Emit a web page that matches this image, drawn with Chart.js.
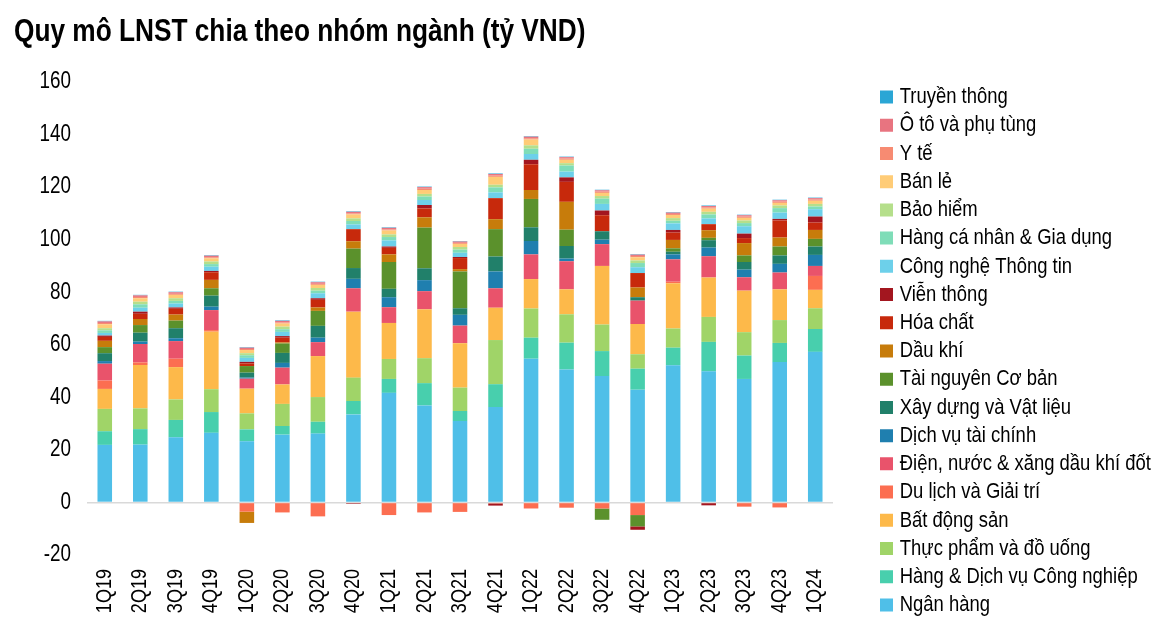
<!DOCTYPE html>
<html>
<head>
<meta charset="utf-8">
<script src="https://cdn.jsdelivr.net/npm/chart.js@4.4.1/dist/chart.umd.min.js"></script>
<style>
  html, body { margin: 0; padding: 0; background: #ffffff; }
  #wrap { width: 1176px; height: 638px; position: relative; }
</style>
</head>
<body>
<div id="wrap"><canvas id="c"></canvas></div>
<script>
// ---- Data (tỷ VND) ----
const categories = ['1Q19','2Q19','3Q19','4Q19','1Q20','2Q20','3Q20','4Q20','1Q21','2Q21','3Q21','4Q21','1Q22','2Q22','3Q22','4Q22','1Q23','2Q23','3Q23','4Q23','1Q24'];
const yTicks = [-20, 0, 20, 40, 60, 80, 100, 120, 140, 160];

const nganHang     = [21.9, 22.0, 24.8, 26.5, 23.3, 25.8, 26.2, 33.5, 41.7, 36.9, 31.0, 36.3, 54.7, 50.6, 48.1, 42.9, 52.2, 49.9, 47.0, 53.4, 57.3];
const hangDvCN     = [5.2, 5.9, 6.6, 7.9, 4.5, 3.3, 4.5, 5.1, 5.3, 8.5, 3.8, 8.7, 8.0, 10.2, 9.5, 8.0, 6.7, 11.2, 8.9, 7.3, 8.7];
const thucPham     = [8.5, 7.9, 7.8, 8.7, 6.1, 8.4, 9.4, 8.9, 7.6, 9.5, 8.9, 16.8, 11.1, 10.8, 10.1, 5.5, 7.3, 9.5, 8.9, 8.7, 7.9];
const batDongSan   = [7.6, 16.5, 12.3, 21.9, 9.4, 7.4, 15.6, 25.1, 13.7, 18.6, 16.9, 12.3, 11.2, 9.5, 22.3, 11.5, 17.2, 15.0, 15.8, 11.7, 7.0];
const duLich       = [3.2, 1.0, 3.2, 0.6, -3.5, -3.8, -5.3, 0, -4.8, -3.8, -3.6, -0.4, -2.3, -2.0, -2.3, -4.8, 0.6, -0.3, -1.6, -1.9, 5.3];
const dienNuoc     = [6.4, 7.0, 6.7, 7.6, 3.8, 6.4, 5.3, 8.9, 6.0, 6.9, 6.7, 7.4, 9.4, 10.7, 8.3, 8.9, 8.5, 8.1, 5.1, 6.4, 3.8];
const dvTaiChinh   = [1.0, 0.9, 1.1, 1.3, 0.4, 1.8, 1.7, 3.6, 3.8, 4.2, 4.1, 6.4, 5.1, 1.0, 1.7, 0, 1.9, 3.3, 2.9, 3.3, 4.2];
const xayDung      = [3.0, 3.4, 3.8, 4.2, 1.9, 3.8, 4.5, 4.1, 3.2, 4.5, 2.5, 5.7, 5.2, 4.8, 3.2, 1.3, 1.0, 2.8, 2.9, 3.2, 3.2];
const taiNguyen    = [2.3, 2.9, 2.9, 2.8, 2.5, 3.6, 5.7, 7.4, 10.2, 15.5, 14.0, 10.4, 10.8, 6.2, -4.3, -4.3, 1.3, 0.9, 2.5, 3.4, 2.9];
const dauKhi       = [2.4, 2.3, 2.3, 3.2, -4.3, 0.4, 1.3, 2.8, 2.9, 3.9, 0.9, 3.8, 3.4, 10.6, 0, 3.7, 3.2, 2.9, 4.7, 3.4, 3.4];
const hoaChat      = [1.5, 2.0, 2.2, 2.9, 1.0, 1.8, 2.9, 4.6, 2.5, 3.4, 4.2, 8.0, 9.8, 7.6, 6.1, 5.5, 2.8, 2.3, 1.9, 6.5, 2.8];
const vienThong    = [0.5, 0.8, 0.5, 0.5, 0.6, 0.6, 0.6, -0.5, 0.5, 1.3, 0.4, -0.8, 1.7, 1.7, 1.8, -1.3, 1.0, -0.8, 1.7, 0.6, 2.3];
const congNgheTT   = [1.0, 1.5, 1.5, 1.6, 1.5, 1.6, 1.9, 1.8, 2.3, 1.9, 1.6, 2.2, 2.2, 2.2, 2.5, 2.2, 2.5, 2.2, 2.8, 2.4, 2.8];
const hangCaNhan   = [1.0, 1.3, 1.0, 1.0, 1.0, 1.0, 1.0, 1.3, 1.3, 1.3, 1.2, 1.9, 2.0, 2.3, 2.0, 1.6, 1.0, 1.5, 1.2, 1.7, 1.0];
const baoHiem      = [0.8, 1.0, 1.0, 1.0, 0.8, 1.0, 1.0, 1.0, 1.0, 1.0, 1.0, 1.0, 1.3, 0.9, 1.0, 1.0, 1.0, 1.0, 1.0, 1.0, 1.0];
const banLe        = [1.5, 1.3, 1.3, 1.2, 1.2, 1.2, 1.2, 1.5, 1.5, 1.5, 1.2, 3.0, 2.2, 1.3, 1.2, 1.2, 1.2, 1.2, 1.0, 1.0, 1.2];
const yTe          = [0.5, 0.5, 0.4, 0.4, 0.4, 0.4, 0.4, 0.4, 0.4, 0.5, 0.4, 0.5, 0.5, 0.5, 0.5, 0.5, 0.4, 0.5, 0.5, 0.5, 0.5];
const otoPhuTung   = [0.6, 0.6, 0.6, 0.6, 0.5, 0.6, 0.6, 0.6, 0.6, 0.6, 0.5, 0.6, 0.6, 0.5, 0.5, 0.5, 0.5, 0.5, 0.5, 0.5, 0.5];
const truyenThong  = [0.2, 0.2, 0.2, 0.2, 0.2, 0.2, 0.2, 0.2, 0.2, 0.2, 0.2, 0.2, 0.2, 0.2, 0.2, 0.2, 0.2, 0.2, 0.2, 0.2, 0.2];

// bottom-to-top stacking order
const seriesNames = ['Ngân hàng','Hàng & Dịch vụ Công nghiệp','Thực phẩm và đồ uống','Bất động sản','Du lịch và Giải trí','Điện, nước & xăng dầu khí đốt','Dịch vụ tài chính','Xây dựng và Vật liệu','Tài nguyên Cơ bản','Dầu khí','Hóa chất','Viễn thông','Công nghệ Thông tin','Hàng cá nhân & Gia dụng','Bảo hiểm','Bán lẻ','Y tế','Ô tô và phụ tùng','Truyền thông'];
const seriesData = [nganHang, hangDvCN, thucPham, batDongSan, duLich, dienNuoc, dvTaiChinh, xayDung, taiNguyen, dauKhi, hoaChat, vienThong, congNgheTT, hangCaNhan, baoHiem, banLe, yTe, otoPhuTung, truyenThong];
const seriesColors = ['#4FBFE8','#48CFAD','#A0D468','#FDB94A','#FC6E51','#E9536B','#1F7FAF','#21806A','#5B912C','#C77C0B','#C7290C','#A3161F','#6DD0EA','#7FDDB8','#B5DF8B','#FFCC77','#F78B72','#E87480','#2AA6D5'];

// Narrow-font emulation: horizontally condense text whose font list starts with a marker family
const NARROW = 0.82;
const FONT = "NarrowMark, 'Liberation Sans', Arial, sans-serif";
const FONT_LEG = "NarrowMarkLeg, 'Liberation Sans', Arial, sans-serif";
const LEG_TEXT_SHIFT = -4.5;
(function () {
  const P = CanvasRenderingContext2D.prototype;
  const origFill = P.fillText, origMeasure = P.measureText;
  P.fillText = function (text, x, y, maxWidth) {
    const f = this.font;
    if (f.indexOf('NarrowMark') < 0) {
      return maxWidth === undefined ? origFill.call(this, text, x, y) : origFill.call(this, text, x, y, maxWidth);
    }
    const dx = f.indexOf('NarrowMarkLeg') >= 0 ? LEG_TEXT_SHIFT : 0;
    this.save();
    this.translate(x + dx, y);
    this.scale(NARROW, 1);
    origFill.call(this, text, 0, 0);
    this.restore();
  };
  P.measureText = function (text) {
    const m = origMeasure.call(this, text);
    if (this.font.indexOf('NarrowMark') < 0) return m;
    return {
      width: m.width * NARROW,
      actualBoundingBoxLeft: m.actualBoundingBoxLeft * NARROW,
      actualBoundingBoxRight: m.actualBoundingBoxRight * NARROW,
      actualBoundingBoxAscent: m.actualBoundingBoxAscent,
      actualBoundingBoxDescent: m.actualBoundingBoxDescent,
      fontBoundingBoxAscent: m.fontBoundingBoxAscent,
      fontBoundingBoxDescent: m.fontBoundingBoxDescent
    };
  };
})();

const LEGEND_W = 343;
const LEG_FONT = 22.5;
const LEG_PAD = 5.72;

const layoutPlugin = {
  id: 'layoutFix',
  afterInit(chart) {
    const lg = chart.legend;
    const origFit = lg.fit;
    lg.fit = function () { origFit.call(this); this.width = LEGEND_W; };
  },
  afterLayout(chart) {
    const lg = chart.legend;
    const w = lg.width;
    lg.left = 880 - LEG_PAD; lg.right = lg.left + w;
    lg.top = 97 - LEG_PAD - LEG_FONT / 2; lg.bottom = 638; lg.height = lg.bottom - lg.top;
  }
};

new Chart(document.getElementById('c'), {
  type: 'bar',
  data: {
    labels: categories,
    datasets: seriesNames.map((n, i) => ({
      label: n,
      data: seriesData[i],
      backgroundColor: seriesColors[i],
      borderWidth: 0,
      barPercentage: 0.41,
      categoryPercentage: 1.0
    }))
  },
  options: {
    responsive: true,
    maintainAspectRatio: false,
    animation: false,
    layout: { padding: { left: 14, right: 0, top: 0, bottom: 0 } },
    plugins: {
      title: {
        display: true,
        text: 'Quy mô LNST chia theo nhóm ngành (tỷ VND)',
        align: 'start',
        color: '#000000',
        font: { family: FONT, size: 32, weight: 'bold' },
        padding: { top: 12.5, bottom: 31.1 }
      },
      legend: {
        position: 'right',
        align: 'start',
        reverse: true,
        labels: {
          boxWidth: 13, boxHeight: 13,
          padding: LEG_PAD,
          color: '#000000',
          font: { family: FONT_LEG, size: LEG_FONT }
        }
      },
      tooltip: { enabled: false }
    },
    scales: {
      x: {
        stacked: true,
        grid: { display: false, drawTicks: false },
        border: { display: false },
        ticks: {
          autoSkip: false, maxRotation: 90, minRotation: 90,
          padding: 14, color: '#000000',
          font: { family: FONT, size: 22 }
        },
        afterFit(scale) { scale.height = 83; }
      },
      y: {
        stacked: true,
        min: -20, max: 160,
        afterBuildTicks(scale) { scale.ticks = yTicks.map(v => ({ value: v })); },
        grid: {
          drawTicks: false,
          color: (ctx) => (ctx.tick && ctx.tick.value === 0) ? '#D9D9D9' : 'rgba(0,0,0,0)',
          lineWidth: 1.5
        },
        border: { display: false },
        ticks: {
          padding: 16, color: '#000000',
          font: { family: FONT, size: 23 }
        },
        afterFit(scale) { scale.width = 73; }
      }
    }
  },
  plugins: [layoutPlugin]
});
</script>
</body>
</html>
